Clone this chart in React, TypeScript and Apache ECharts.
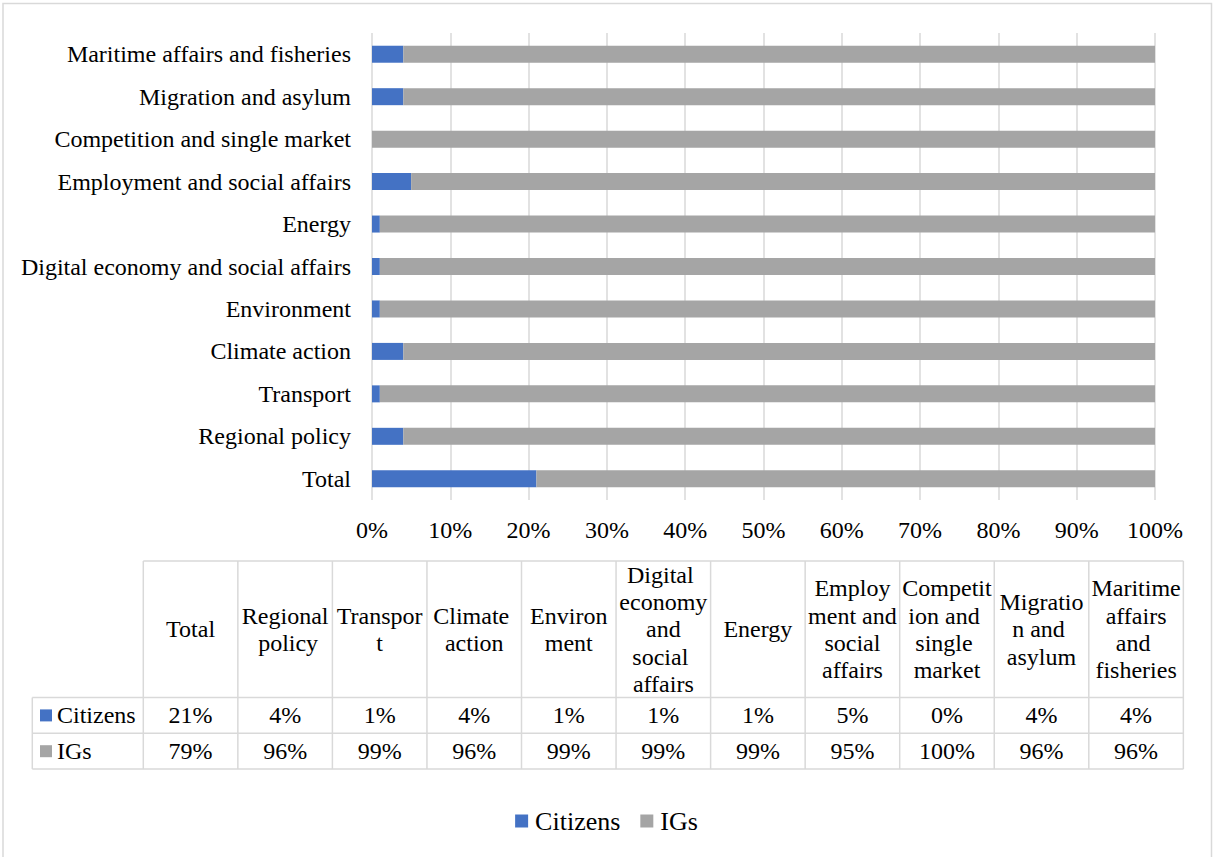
import React, { useEffect, useRef } from "react";
import * as echarts from "echarts";

const categories = [
  "Total",
  "Regional policy",
  "Transport",
  "Climate action",
  "Environment",
  "Digital economy and social affairs",
  "Energy",
  "Employment and social affairs",
  "Competition and single market",
  "Migration and asylum",
  "Maritime affairs and fisheries",
];
const citizens = [21, 4, 1, 4, 1, 1, 1, 5, 0, 4, 4];
const igs = [79, 96, 99, 96, 99, 99, 99, 95, 100, 96, 96];
const seriesNames = ["Citizens", "IGs"];
const colors = ["#4472C4", "#A5A5A5"];
const xTicks = [0, 10, 20, 30, 40, 50, 60, 70, 80, 90, 100];

const FONT = "Liberation Serif, Times New Roman, serif";
const GRID_COLOR = "#D9D9D9";

export default function App() {
  const ref = useRef<HTMLDivElement>(null);

  useEffect(() => {
    if (!ref.current) return;
    const chart = echarts.init(ref.current, null, { renderer: "svg" });

    // Table layout
    const tLeft = 143.3;
    const colW = 94.55;
    const keyLeft = 32.3;
    const headTop = 561;
    const headBottom = 697.5;
    const rowH = 35.8;
    const values = [citizens, igs];

    const g: any[] = [];
    // outer border (bottom edge off-page)
    g.push({
      type: "rect",
      shape: { x: 3, y: 3.5, width: 1208.5, height: 870 },
      style: { fill: "none", stroke: GRID_COLOR, lineWidth: 1.5 },
      silent: true,
    });
    const line = (x1: number, y1: number, x2: number, y2: number) =>
      g.push({
        type: "line",
        shape: { x1, y1, x2, y2 },
        style: { stroke: GRID_COLOR, lineWidth: 1.5 },
        silent: true,
      });
    const tRight = tLeft + colW * categories.length;
    const tBottom = headBottom + rowH * values.length;
    line(tLeft, headTop, tRight, headTop);
    line(keyLeft, headBottom, tRight, headBottom);
    for (let r = 1; r <= values.length; r++) {
      line(keyLeft, headBottom + rowH * r, tRight, headBottom + rowH * r);
    }
    line(keyLeft, headBottom, keyLeft, tBottom);
    for (let c = 0; c <= categories.length; c++) {
      line(tLeft + colW * c, headTop, tLeft + colW * c, tBottom);
    }
    categories.forEach((cat, c) => {
      g.push({
        type: "text",
        x: tLeft + colW * c + colW / 2,
        y: (headTop + headBottom) / 2,
        style: {
          text: cat,
          width: 92,
          overflow: "break",
          lineHeight: 27.3,
          align: "center",
          verticalAlign: "middle",
          fontSize: 24,
          fontFamily: FONT,
          fill: "#000",
        },
        silent: true,
      });
    });
    values.forEach((vals, r) => {
      const cy = headBottom + rowH * r + rowH / 2;
      g.push({
        type: "rect",
        shape: { x: 40, y: cy - 6, width: 12, height: 12 },
        style: { fill: colors[r] },
        silent: true,
      });
      g.push({
        type: "text",
        x: 57,
        y: cy,
        style: {
          text: seriesNames[r],
          align: "left",
          verticalAlign: "middle",
          fontSize: 24,
          fontFamily: FONT,
          fill: "#000",
        },
        silent: true,
      });
      vals.forEach((v, c) => {
        g.push({
          type: "text",
          x: tLeft + colW * c + colW / 2,
          y: cy,
          style: {
            text: `${v}%`,
            align: "center",
            verticalAlign: "middle",
            fontSize: 24,
            fontFamily: FONT,
            fill: "#000",
          },
          silent: true,
        });
      });
    });

    chart.setOption({
      animation: false,
      backgroundColor: "#fff",
      textStyle: { fontFamily: FONT },
      grid: { left: 372, right: 58, top: 33, bottom: 357, containLabel: false },
      legend: {
        data: seriesNames,
        left: "center",
        top: 803,
        icon: "rect",
        itemWidth: 13,
        itemHeight: 13,
        itemGap: 20,
        textStyle: { fontSize: 26, color: "#000", fontFamily: FONT, padding: [0, 0, 0, 2] },
      },
      xAxis: {
        type: "value",
        min: xTicks[0],
        max: xTicks[xTicks.length - 1],
        interval: xTicks[1] - xTicks[0],
        axisLine: { show: false },
        axisTick: { show: false },
        axisLabel: {
          formatter: "{value}%",
          fontSize: 24,
          color: "#000",
          margin: 18,
          fontFamily: FONT,
        },
        splitLine: { show: true, lineStyle: { color: GRID_COLOR, width: 1.5 } },
      },
      yAxis: {
        type: "category",
        data: categories,
        axisLine: { show: false },
        axisTick: { show: false },
        axisLabel: { fontSize: 24, color: "#000", margin: 21, fontFamily: FONT },
      },
      series: [
        {
          name: seriesNames[0],
          type: "bar",
          stack: "total",
          data: citizens,
          barWidth: 17,
          itemStyle: { color: colors[0] },
        },
        {
          name: seriesNames[1],
          type: "bar",
          stack: "total",
          data: igs,
          barWidth: 17,
          itemStyle: { color: colors[1] },
        },
      ],
      graphic: g,
    });

    return () => chart.dispose();
  }, []);

  return (
    <div
      ref={ref}
      style={{ position: "absolute", left: 0, top: 0, width: 1213, height: 857 }}
    />
  );
}
